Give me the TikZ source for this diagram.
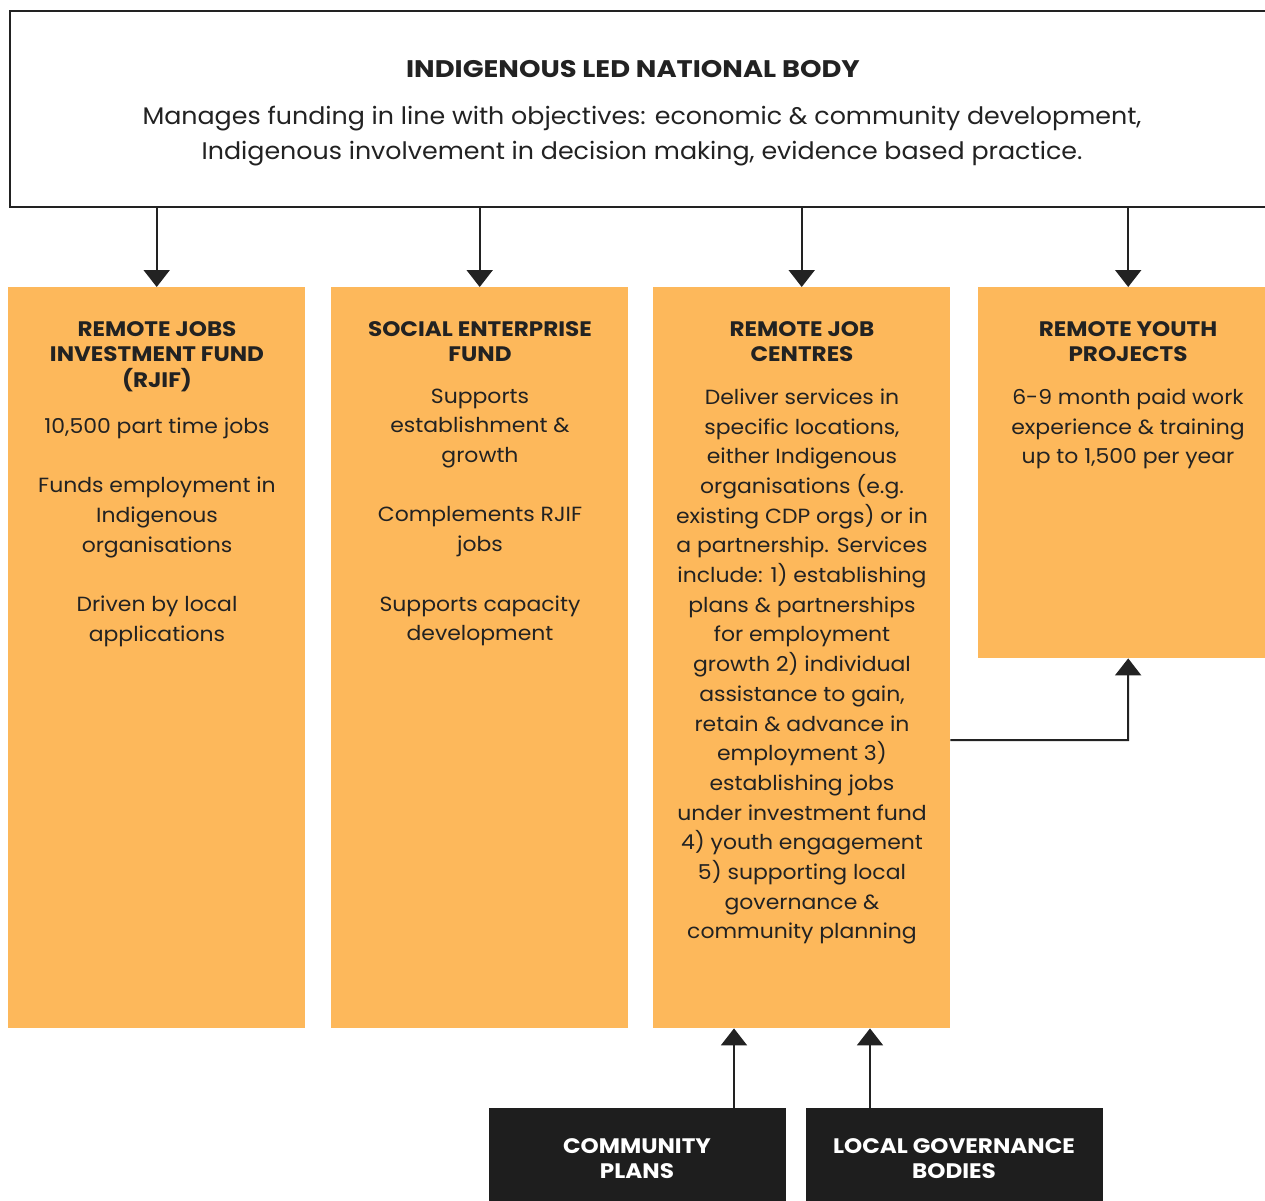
\documentclass[tikz,border=0pt]{standalone}
\usepackage{fontspec}
\setmainfont{Poppins}
\newfontfamily\bodyfont{Poppins}[FakeStretch=1.07]
\newfontfamily\hdrfont{Poppins}[FakeStretch=1.1]
\newfontfamily\titlefont{Poppins}[FakeStretch=1.14]
\newfontfamily\topfont{Poppins}[FakeStretch=1.055]
\usetikzlibrary{arrows.meta,calc}
\definecolor{orangebox}{RGB}{253,184,91}
\definecolor{darkbox}{RGB}{30,30,30}
\definecolor{ink}{RGB}{34,34,34}
\begin{document}
\begin{tikzpicture}[x=1pt,y=-1pt,
  obox/.style={fill=orangebox, draw=none, anchor=north west, inner sep=0pt, minimum width=297pt, minimum height=741pt},
  dbox/.style={fill=darkbox, draw=none, anchor=north west, inner sep=0pt, minimum width=297pt, minimum height=120pt},
  hdr/.style={anchor=north, inner sep=0pt, align=center, text=ink, font=\hdrfont\fontsize{21}{25.5}\selectfont\bfseries},
  bodytxt/.style={anchor=north, inner sep=0pt, align=center, text=ink, font=\bodyfont\fontsize{20.5}{29.7}\selectfont},
  whitehdr/.style={anchor=north, inner sep=0pt, align=center, text=white, font=\hdrfont\fontsize{21}{25.5}\selectfont\bfseries},
  arr/.style={draw=ink, line width=2pt, -{Triangle[width=26pt,length=17pt]}}
]
\useasboundingbox (0,0) rectangle (1265,1200);
\clip (0,0) rectangle (1265,1200);
\fill[white] (0,0) rectangle (1265,1200);

% top box
\node[draw=ink, line width=2.4pt, anchor=north west, inner sep=0pt, minimum width=1300pt, minimum height=196pt] (top) at (9,10) {};
\node[anchor=center, inner sep=0pt, text=ink, font=\titlefont\fontsize{24}{28}\selectfont\bfseries] (toptitle) at (633,69) {INDIGENOUS LED NATIONAL BODY};
\node[anchor=north, inner sep=0pt, align=center, text=ink, font=\topfont\fontsize{24}{35}\selectfont] (toptext) at (642,106) {Manages funding in line with objectives: economic \& community development,\\Indigenous involvement in decision making, evidence based practice.};

% orange boxes
\node[obox] (b1) at (8,287) {};
\node[obox] (b2) at (331,287) {};
\node[obox] (b3) at (653,287) {};
\node[obox, minimum width=300pt, minimum height=371pt] (b4) at (978,287) {};

% box 1
\node[hdr] (h1) at (157,321) {REMOTE JOBS\\INVESTMENT FUND\\(RJIF)};
\node[bodytxt] (t1) at (157,417.5) {10,500 part time jobs\\[29.7pt]Funds employment in\\Indigenous\\organisations\\[29.7pt]Driven by local\\applications};

% box 2
\node[hdr] (h2) at (480,321) {SOCIAL ENTERPRISE\\FUND};
\node[bodytxt] (t2) at (480,388.5) {Supports\\establishment \&\\growth\\[29.7pt]Complements RJIF\\jobs\\[29.7pt]Supports capacity\\development};

% box 3
\node[hdr] (h3) at (802,321) {REMOTE JOB\\CENTRES};
\node[bodytxt] (t3) at (802,388.5) {Deliver services in\\specific locations,\\either Indigenous\\organisations (e.g.\\existing CDP orgs) or in\\a partnership. Services\\include: 1) establishing\\plans \& partnerships\\for employment\\growth 2) individual\\assistance to gain,\\retain \& advance in\\employment 3)\\establishing jobs\\under investment fund\\4) youth engagement\\5) supporting local\\governance \&\\community planning};

% box 4
\node[hdr] (h4) at (1128,321) {REMOTE YOUTH\\PROJECTS};
\node[bodytxt] (t4) at (1128,388.5) {6-9 month paid work\\experience \& training\\up to 1,500 per year};

% dark boxes
\node[dbox] (cp) at (489,1108) {};
\node[dbox] (lg) at (806,1108) {};
\node[whitehdr] (cpt) at (637,1138) {COMMUNITY\\PLANS};
\node[whitehdr] (lgt) at (954,1138) {LOCAL GOVERNANCE\\BODIES};

% arrows from top
\draw[arr] (top.south -| b1.north) -- (b1.north);
\draw[arr] (top.south -| b2.north) -- (b2.north);
\draw[arr] (top.south -| b3.north) -- (b3.north);
\draw[arr] (top.south -| b4.north) -- (b4.north);

% arrows from bottom
\coordinate (ua) at (734,1060);
\coordinate (ub) at (870,1060);
\draw[arr] (cp.north -| ua) -- (b3.south -| ua);
\draw[arr] (lg.north -| ub) -- (b3.south -| ub);

% connector to youth projects
\coordinate (j) at (1128,740);
\draw[arr] (b3.east |- j) -- (j) -- (b4.south);
\end{tikzpicture}
\end{document}
